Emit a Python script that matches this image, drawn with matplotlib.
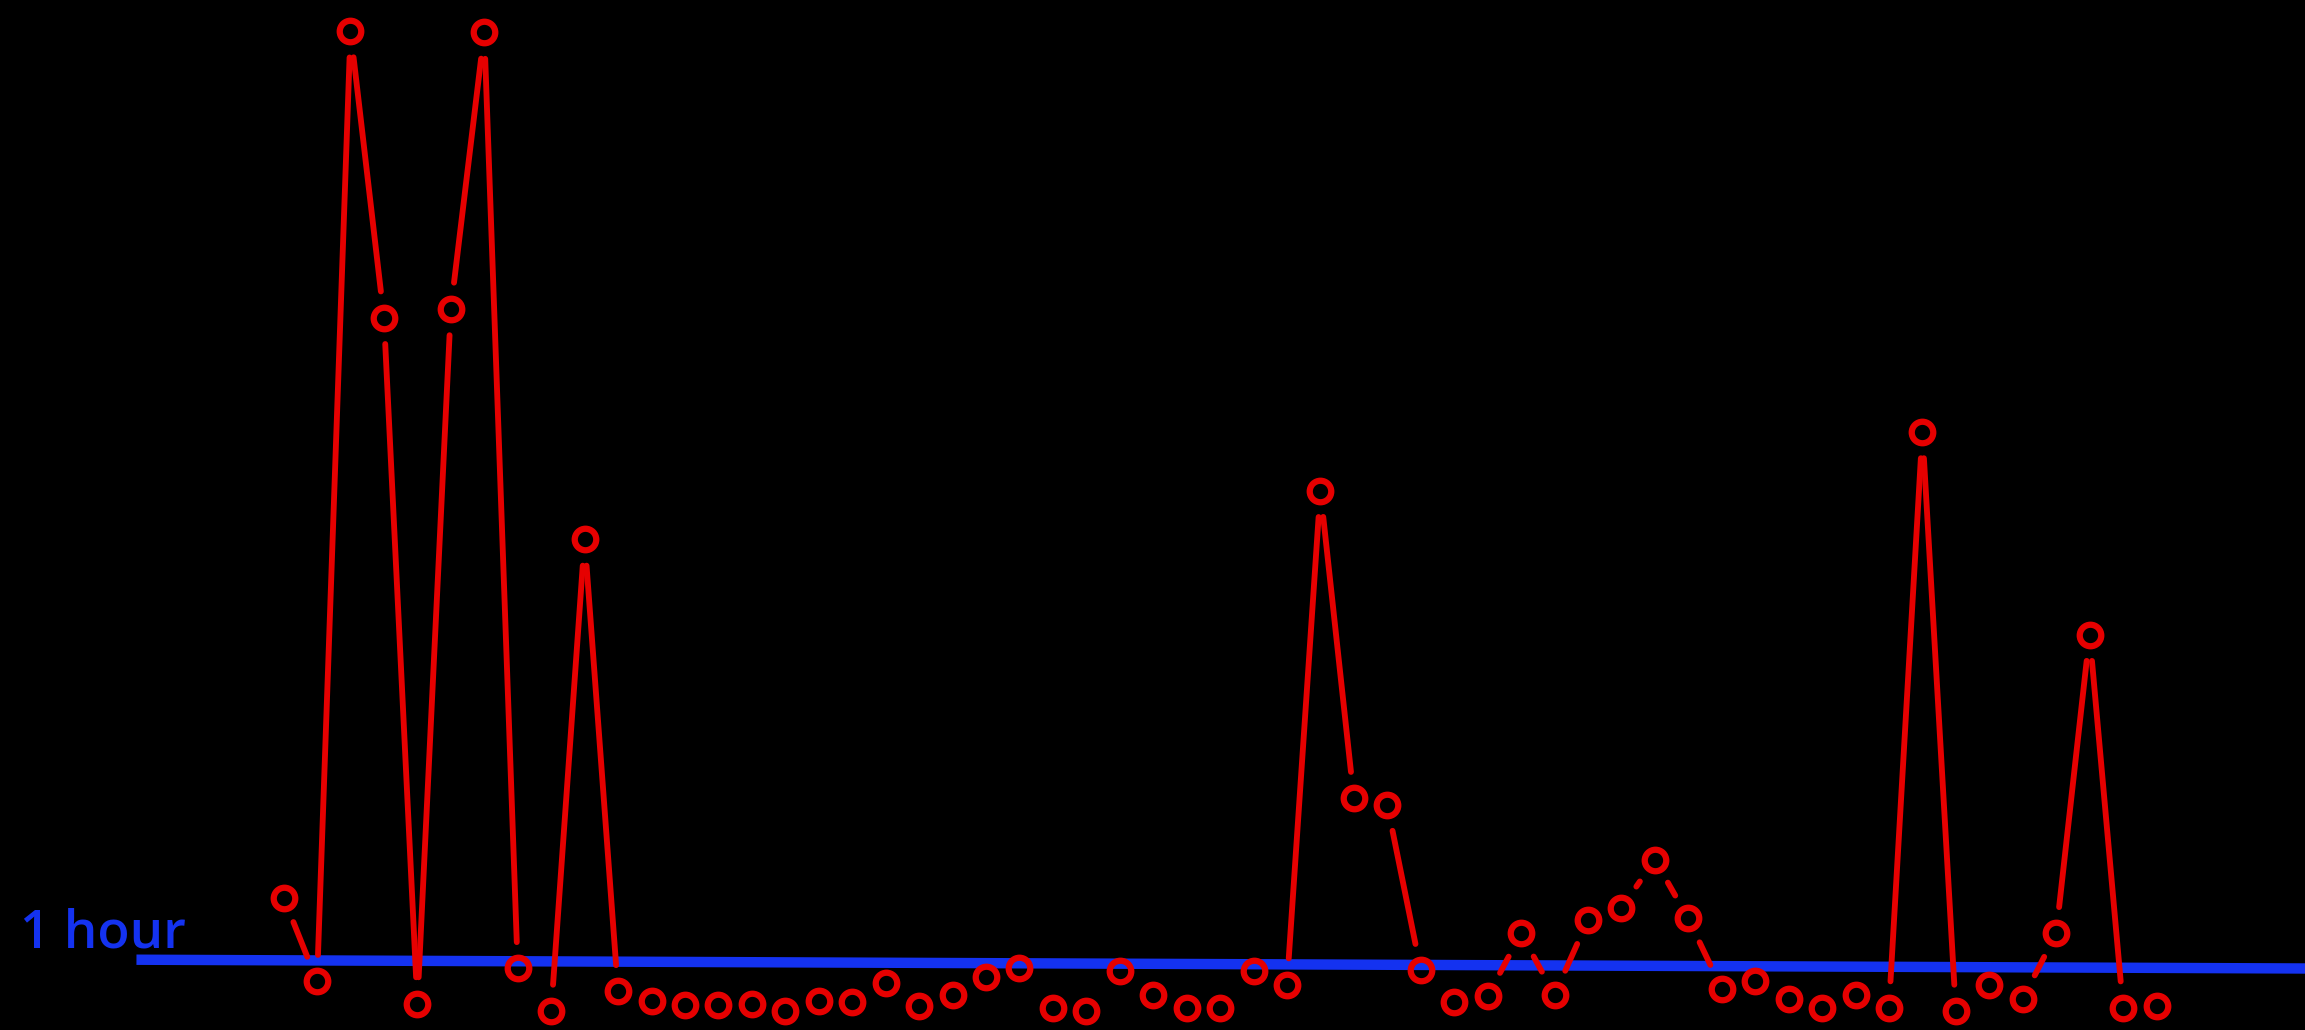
import numpy as np
import matplotlib.pyplot as plt

# hours per sample (threshold line sits at about 1 hour)
sample = list(range(1, 58))
hours = [1.96, 0.72, 14.78, 10.54, 0.39, 10.67, 14.76, 0.91, 0.28, 7.26,
         0.57, 0.43, 0.37, 0.37, 0.39, 0.28, 0.43, 0.41, 0.70, 0.35,
         0.52, 0.78, 0.91, 0.33, 0.28, 0.87, 0.52, 0.33, 0.33, 0.87,
         0.67, 7.98, 3.43, 3.33, 0.89, 0.41, 0.50, 1.43, 0.52, 1.63,
         1.80, 2.52, 1.65, 0.61, 0.72, 0.46, 0.33, 0.52, 0.33, 8.85,
         0.28, 0.67, 0.46, 1.43, 5.85, 0.33, 0.35]

# the blue "1 hour" reference line (drawn slightly tilted in the original)
hour_x = [-3.4, 61.5]
hour_y = [1.04, 0.91]
hour_label = "1 hour"

red = "#e60000"
blue = "#1432f0"
gap = 19  # points cut off each end of a red segment

fig = plt.figure(figsize=(23.05, 10.30), dpi=100, facecolor="black")
ax = fig.add_axes([0, 0, 1, 1])
ax.set_facecolor("black")
ax.set_xlim(-7.48, 61.44)
ax.set_ylim(0, 15.24)
ax.axis("off")

ax.plot(hour_x, hour_y, color=blue, lw=7.5, solid_capstyle="butt", zorder=1)

# red segments stop short of the markers, like the original;
# segments too short to survive the cut are skipped
pts = ax.transData.transform(np.column_stack([sample, hours]))
gap_px = gap * fig.dpi / 72
for i in range(len(sample) - 1):
    if np.hypot(*(pts[i + 1] - pts[i])) <= 2 * gap_px + 2:
        continue
    ax.annotate("", xy=(sample[i + 1], hours[i + 1]), xytext=(sample[i], hours[i]),
                arrowprops=dict(arrowstyle="-", color=red, lw=4.2,
                                shrinkA=gap, shrinkB=gap),
                zorder=2)

ax.plot(sample, hours, linestyle="none", marker="o", markersize=15.5,
        markerfacecolor="none", markeredgecolor=red, markeredgewidth=4.5,
        zorder=3)

fig.text(20 / 2305, 82 / 1030, hour_label, color=blue, fontsize=38,
         family="Open Sans", weight="semibold", va="baseline", ha="left")

fig.savefig("out.png", dpi=100, facecolor="black")
